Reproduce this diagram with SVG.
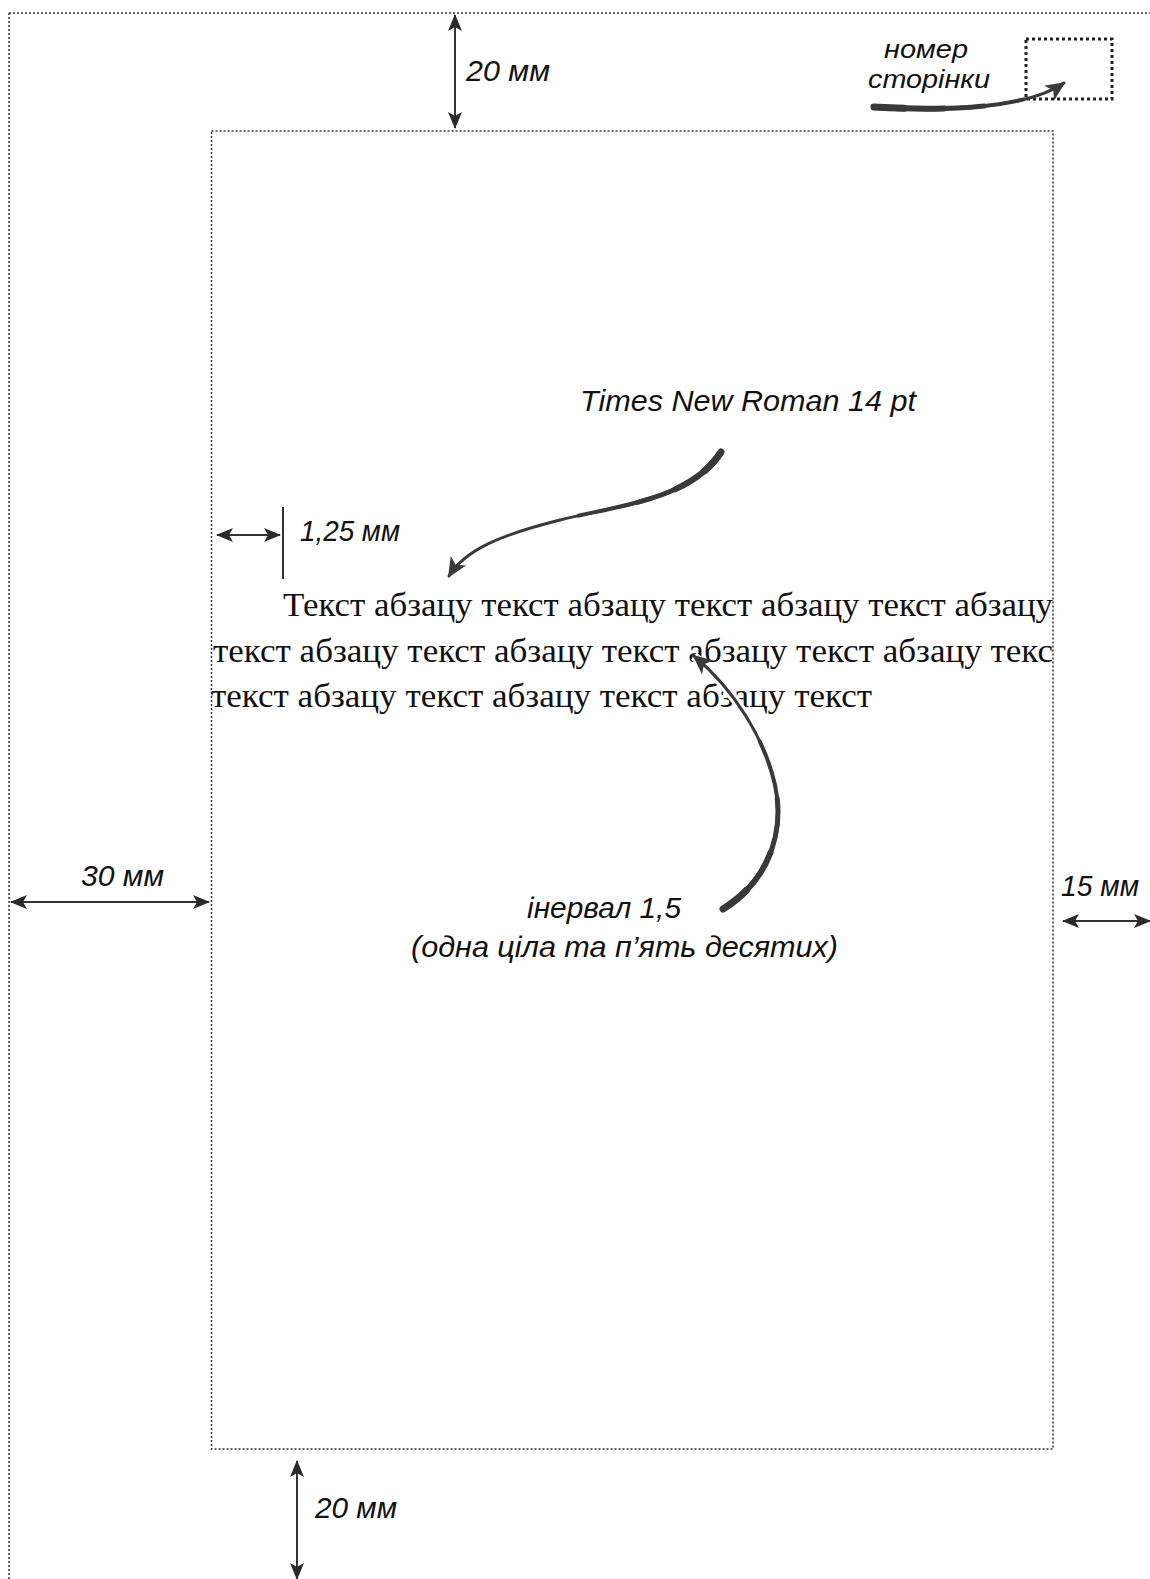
<svg xmlns="http://www.w3.org/2000/svg" width="1150" height="1579" viewBox="0 0 1150 1579">
<style>
.dot{fill:none;stroke:#333;stroke-width:1.5;stroke-dasharray:2 2}
.dim{fill:none;stroke:#333;stroke-width:2}
.curve{fill:none;stroke:#3a3a3a;stroke-width:3;stroke-linecap:round}
.w4{stroke-width:4}
.w5{stroke-width:5}
.w6{stroke-width:6}
.w7{stroke-width:7}
.lbl{font-family:"Liberation Sans","DejaVu Sans",sans-serif;font-style:italic;font-size:30px;fill:#111}
.small{font-size:26px}
.para{font-family:"Liberation Serif","Times New Roman",serif;font-size:34px;fill:#111}
</style>
<defs>
<marker id="ah" markerUnits="userSpaceOnUse" markerWidth="18" markerHeight="16" refX="16" refY="7" orient="auto-start-reverse" viewBox="0 0 18 14">
<path d="M0,0 L17,7 L0,14 L4,7 z" fill="#2a2a2a"/>
</marker>
<marker id="ch" markerUnits="userSpaceOnUse" markerWidth="22" markerHeight="20" refX="18" refY="9" orient="auto" viewBox="0 0 22 18">
<path d="M0,0 L20,9 L0,18 L5,9 z" fill="#3a3a3a"/>
</marker>
<path id="pc" d="M874,107 C960,112 1030,106 1064,83"/>
<path id="tc" d="M721,452 C690,500 620,505 560,520 C500,535 465,550 449,576"/>
<path id="ic" d="M723,909 C770,880 785,830 775,785 C765,740 735,690 694,656"/>
</defs>
<rect width="1150" height="1579" fill="#fff"/>
<g id="outer-page">
<path class="dot" d="M9,13 H1150 M9,13 V1579"/>
</g>
<g id="text-area">
<rect class="dot" x="211.5" y="131" width="841.5" height="1318"/>
</g>
<g id="page-number-box">
<rect x="1026" y="39" width="86" height="60" fill="none" stroke="#222" stroke-width="3" stroke-dasharray="3 3"/>
<text class="lbl small" x="884" y="58" textLength="84" lengthAdjust="spacingAndGlyphs">номер</text>
<text class="lbl small" x="868" y="88" textLength="122" lengthAdjust="spacingAndGlyphs">сторінки</text>
</g>
<g id="paragraph">
<text class="para" x="283" y="616" textLength="770" lengthAdjust="spacingAndGlyphs">Текст абзацу текст абзацу текст абзацу текст абзацу</text>
<text class="para" x="213" y="662" textLength="840" lengthAdjust="spacingAndGlyphs">текст абзацу текст абзацу текст абзацу текст абзацу текс</text>
<text class="para" x="211" y="707" textLength="661" lengthAdjust="spacingAndGlyphs">текст абзацу текст абзацу текст абзацу текст</text>
</g>
<g id="labels">
<text class="lbl" x="466" y="81" textLength="84" lengthAdjust="spacingAndGlyphs">20 мм</text>
<text class="lbl" x="580" y="411" textLength="336" lengthAdjust="spacingAndGlyphs">Times New Roman 14 pt</text>
<text class="lbl" x="300" y="541" textLength="100" lengthAdjust="spacingAndGlyphs">1,25 мм</text>
<text class="lbl" x="81" y="886" textLength="83" lengthAdjust="spacingAndGlyphs">30 мм</text>
<text class="lbl" x="1061" y="896" textLength="78" lengthAdjust="spacingAndGlyphs">15 мм</text>
<text class="lbl" x="527" y="918" textLength="154" lengthAdjust="spacingAndGlyphs">інервал 1,5</text>
<text class="lbl" x="411" y="957" textLength="427" lengthAdjust="spacingAndGlyphs">(одна ціла та п’ять десятих)</text>
<text class="lbl" x="315" y="1518" textLength="82" lengthAdjust="spacingAndGlyphs">20 мм</text>
</g>
<g id="connectors">
<line class="dim" x1="455" y1="15" x2="455" y2="128" marker-start="url(#ah)" marker-end="url(#ah)"/>
<line class="dim" x1="217" y1="535" x2="280" y2="535" marker-start="url(#ah)" marker-end="url(#ah)"/>
<line class="dim" x1="283" y1="507" x2="283" y2="579"/>
<line class="dim" x1="11" y1="902" x2="209" y2="902" marker-start="url(#ah)" marker-end="url(#ah)"/>
<line class="dim" x1="1063" y1="921" x2="1150" y2="921" marker-start="url(#ah)" marker-end="url(#ah)"/>
<line class="dim" x1="297" y1="1461" x2="297" y2="1579" marker-start="url(#ah)" marker-end="url(#ah)"/>
<use href="#pc" class="curve w7" stroke-dasharray="30 2000"/>
<use href="#pc" class="curve w6" stroke-dasharray="70 2000"/>
<use href="#pc" class="curve w5" stroke-dasharray="110 2000"/>
<use href="#pc" class="curve w4" stroke-dasharray="150 2000"/>
<use href="#pc" class="curve" marker-end="url(#ch)"/>
<use href="#tc" class="curve w7" stroke-dasharray="25 2000"/>
<use href="#tc" class="curve w6" stroke-dasharray="60 2000"/>
<use href="#tc" class="curve w5" stroke-dasharray="100 2000"/>
<use href="#tc" class="curve w4" stroke-dasharray="160 2000"/>
<use href="#tc" class="curve" stroke-width="2.5" marker-end="url(#ch)"/>
<use href="#ic" fill="none" stroke="#fff" stroke-width="9"/>
<use href="#ic" class="curve w7" stroke-dasharray="30 2000"/>
<use href="#ic" class="curve w6" stroke-dasharray="75 2000"/>
<use href="#ic" class="curve w5" stroke-dasharray="130 2000"/>
<use href="#ic" class="curve w4" stroke-dasharray="190 2000"/>
<use href="#ic" class="curve" marker-end="url(#ch)"/>
</g>
</svg>
